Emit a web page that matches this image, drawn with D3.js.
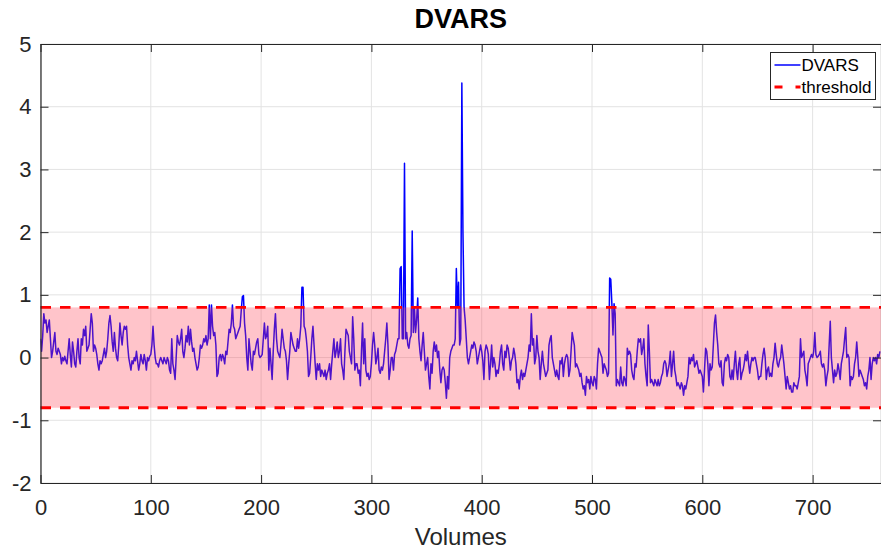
<!DOCTYPE html>
<html lang="en">

<head>
    <meta charset="UTF-8">
    <title>DVARS</title>
    <script src="https://d3js.org/d3.v7.min.js"></script>
</head>
<style>
    body {
        margin: 0;
        background: #fff;
    }

    text {
        font-family: "Liberation Sans", Arial, Helvetica, sans-serif;
        fill: #262626;
    }
</style>

<body>
    <div id="chart"></div>

    <script>
        // DVARS value for every volume (index = volume)
        const dvars = [
            0.3, 0.1, 0.35, 0.7, 0.55, 0.6, 0.4, 0.5, 0.6, 0.3,
            0.0, 0.1, 0.25, 0.4, 0.1, 0.05, 0.15, 0.1, 0.05, -0.1,
            0.0, -0.05, 0.02, -0.05, -0.1, 0.1, 0.3, 0.05, -0.15, 0.25,
            0.1, -0.1, -0.15, 0.1, 0.3, 0.0, -0.1, 0.3, 0.2, 0.45,
            0.35, 0.5, 0.1, 0.15, 0.2, 0.45, 0.7, 0.55, 0.1, 0.2,
            0.15, 0.05, -0.1, -0.2, -0.05, -0.1, -0.05, 0.05, 0.15, 0.0,
            0.1, 0.3, 0.55, 0.67, 0.5, 0.25, 0.1, 0.4, 0.15, 0.0,
            -0.05, 0.2, 0.55, 0.35, 0.2, 0.4, 0.5, 0.45, 0.5, 0.2,
            0.0, -0.1, -0.2, -0.05, -0.1, 0.0, -0.05, 0.1, -0.05, -0.2,
            -0.1, 0.05, -0.05, -0.1, 0.05, -0.05, -0.2, 0.0, -0.05, 0.02,
            // 100
            0.05, 0.2, 0.5, 0.2, 0.0, -0.1, -0.1, -0.15, -0.05, 0.0,
            -0.05, -0.1, 0.0, -0.05, -0.1, 0.0, -0.05, -0.2, -0.25, 0.3,
            -0.1, -0.2, -0.35, 0.0, 0.35, 0.25, 0.2, 0.3, 0.45, 0.1,
            0.0, 0.15, 0.35, 0.25, 0.5, 0.2, 0.45, 0.25, 0.1, 0.15,
            0.0, -0.1, -0.2, -0.15, 0.0, 0.2, 0.15, 0.2, 0.3, 0.25,
            0.35, 0.2, 0.3, 0.84, 0.3, 0.84, 0.5, 0.35, 0.4, 0.2,
            -0.3, -0.25, 0.0, 0.05, -0.05, 0.05, 0.0, -0.1, 0.1, 0.05,
            0.25, 0.45, 0.4, 0.55, 0.84, 0.5, 0.45, 0.3, 0.35, 0.4,
            0.45, 0.5, 0.75, 0.97, 0.99, 0.55, 0.35, 0.0, -0.2, 0.3,
            0.1, -0.1, -0.2, 0.1, 0.05, 0.15, 0.25, 0.3, 0.05, 0.0,
            // 200
            0.02, 0.05, 0.3, 0.55, 0.3, 0.35, 0.5, -0.2, 0.15, -0.1,
            -0.35, 0.1, 0.45, 0.7, 0.3, 0.1, 0.05, 0.0, 0.2, 0.45,
            0.3, 0.15, 0.1, -0.05, -0.35, -0.1, 0.1, 0.4, 0.3, 0.2,
            0.15, 0.1, 0.1, 0.3, 0.15, 0.3, 0.5, 1.12, 1.12, 0.5,
            0.45, 0.3, 0.1, -0.3, -0.25, 0.0, 0.3, 0.5, 0.2, -0.1,
            -0.35, -0.1, -0.2, -0.1, -0.3, -0.2, -0.25, -0.3, -0.2, -0.35,
            -0.25, -0.2, -0.1, -0.35, -0.1, 0.1, 0.3, 0.0, 0.1, 0.25,
            0.0, 0.1, 0.3, -0.1, -0.2, -0.35, 0.1, 0.45, 0.4, 0.35,
            0.1, 0.0, -0.1, 0.65, 0.3, -0.2, -0.1, -0.1, -0.25, -0.2,
            -0.45, 0.1, 0.55, -0.1, 0.3, -0.2, -0.3, -0.25, -0.35, -0.3,
            // 300
            -0.1, 0.2, 0.4, 0.2, -0.1, 0.0, 0.15, -0.2, -0.25, -0.15,
            -0.2, -0.1, 0.1, 0.3, 0.55, 0.2, -0.35, -0.2, 0.0, 0.0,
            -0.2, 0.05, 0.1, 0.2, 0.3, 0.3, 1.42, 1.45, 0.3, 0.3,
            3.1, 0.3, 0.4, 0.2, 0.15, 0.3, 0.35, 2.02, 0.4, 0.8,
            0.4, 0.6, 0.95, 0.3, 0.1, -0.05, 0.2, 0.4, 0.1, -0.2,
            -0.1, 0.0, -0.3, -0.5, -0.1, -0.25, 0.1, 0.25, 0.1, 0.2,
            0.0, 0.1, -0.2, -0.4, -0.2, -0.15, -0.2, -0.4, -0.65, -0.3,
            -0.5, 0.0, 0.1, 0.15, 0.2, 0.2, 0.3, 1.42, 0.8, 1.2,
            0.2, 0.3, 4.38, 2.0, 0.8, 0.6, 0.3, 0.0, -0.1, 0.0,
            0.1, 0.2, 0.15, 0.25, 0.2, 0.1, -0.1, 0.0, 0.1, 0.2,
            // 400
            0.1, -0.05, -0.35, 0.1, 0.2, 0.15, 0.05, -0.35, -0.1, 0.2,
            -0.15, 0.0, -0.1, -0.3, -0.2, -0.25, -0.1, 0.1, 0.2, -0.1,
            -0.2, 0.1, 0.0, 0.2, 0.15, 0.0, -0.2, -0.05, 0.0, 0.15,
            0.05, -0.1, -0.4, -0.35, -0.5, -0.3, -0.2, -0.35, -0.25, -0.3,
            -0.2, -0.1, 0.0, 0.2, 0.1, 0.7, 0.2, 0.3, -0.1, 0.0,
            0.35, 0.1, 0.0, -0.35, -0.1, 0.1, -0.1, -0.2, -0.3, -0.25,
            -0.2, 0.2, 0.3, 0.35, 0.0, -0.1, -0.2, -0.3, -0.2, -0.3,
            -0.35, -0.05, -0.1, 0.0, -0.3, -0.1, 0.0, 0.05, 0.0, -0.3,
            -0.2, 0.1, 0.4, 0.3, 0.2, -0.15, -0.1, -0.15, -0.2, -0.3,
            -0.25, -0.4, -0.5, -0.45, -0.6, -0.3, -0.4, -0.35, -0.5, -0.3,
            // 500
            -0.4, -0.45, -0.3, -0.35, -0.5, -0.1, 0.15, 0.1, 0.05, 0.0,
            -0.25, -0.1, -0.15, -0.2, -0.3, -0.25, 1.27, 1.25, 0.86, 0.36,
            0.86, 0.7, -0.45, -0.35, -0.4, -0.45, -0.15, -0.4, -0.45, -0.3,
            -0.35, -0.45, 0.15, 0.05, 0.1, 0.05, -0.2, -0.3, -0.35, -0.1,
            -0.15, 0.1, 0.3, 0.25, 0.3, 0.05, 0.15, 0.3, -0.1, -0.3,
            -0.45, 0.52, 0.1, -0.4, -0.35, -0.4, -0.45, -0.35, -0.4, -0.45,
            -0.35, -0.45, -0.4, -0.3, -0.25, -0.1, -0.05, -0.1, -0.3, -0.2,
            -0.1, 0.1, -0.3, -0.1, 0.1, -0.2, -0.3, -0.45, -0.4, -0.45,
            -0.5, -0.4, -0.45, -0.6, -0.45, -0.5, -0.4, -0.3, 0.0, -0.1,
            0.0, -0.05, 0.05, -0.15, -0.1, -0.05, -0.15, -0.25, -0.2, -0.25,
            // 600
            -0.3, -0.55, -0.2, 0.15, 0.1, -0.1, -0.45, -0.1, -0.2, -0.15,
            0.2, 0.55, 0.68, 0.4, 0.2, -0.1, -0.15, -0.05, -0.4, -0.45,
            -0.1, 0.0, -0.05, 0.05, 0.0, -0.3, -0.35, -0.2, -0.35, -0.1,
            0.1, -0.2, -0.35, -0.1, 0.0, -0.35, -0.25, -0.2, -0.1, 0.05,
            -0.05, 0.1, -0.1, -0.25, -0.1, 0.0, -0.05, 0.0, 0.0, -0.1,
            -0.2, -0.35, -0.3, -0.3, -0.1, 0.05, 0.15, 0.0, -0.35, -0.2,
            -0.15, -0.3, -0.25, -0.3, -0.1, 0.0, 0.23, 0.05, -0.1, -0.15,
            -0.05, 0.0, 0.2, 0.05, -0.1, -0.3, -0.5, -0.3, -0.4, -0.5,
            -0.45, -0.55, -0.55, -0.4, -0.45, -0.45, -0.5, -0.4, -0.3, 0.3,
            0.0, 0.05, 0.1, -0.2, -0.3, -0.45, -0.1, -0.05, 0.0, 0.05,
            // 700
            0.0, 0.1, 0.4, 0.05, 0.0, 0.02, 0.05, 0.1, -0.1, -0.15,
            -0.1, -0.2, -0.45, -0.3, -0.2, 0.2, 0.58, 0.0, -0.2, -0.4,
            -0.2, -0.3, -0.25, -0.1, -0.2, -0.35, -0.1, 0.0, 0.1, 0.3,
            0.48, 0.0, 0.05, 0.0, -0.45, -0.3, -0.35, -0.3, -0.1, 0.0,
            0.25, 0.0, -0.3, -0.2, -0.25, -0.3, -0.35, -0.45, -0.4, -0.5,
            -0.3, -0.2, 0.0, -0.35, -0.1, 0.0, -0.05, 0.0, -0.1, 0.05,
            0.0, 0.1
        ];

        const thresholdValue = 0.8;
        const xTicks = [0, 100, 200, 300, 400, 500, 600, 700];
        const yTicks = [-2, -1, 0, 1, 2, 3, 4, 5];
        const xMax = 762;
        const legendLabels = ["DVARS", "threshold"];

        var margin = {
                top: 44,
                right: 0,
                bottom: 68,
                left: 40.5
            },
            width = 881 - margin.left - margin.right,
            height = 551 - margin.top - margin.bottom;

        const svg = d3.select("#chart")
            .append("svg")
            .attr("width", 881)
            .attr("height", 551);

        const g = svg.append("g")
            .attr("transform", "translate(" + margin.left + "," + margin.top + ")");

        const xScale = d3.scaleLinear()
            .domain([0, xMax])
            .range([0, width]);

        const yScale = d3.scaleLinear()
            .domain([-2, 5])
            .range([height, 0]);

        // grid
        g.append("g")
            .selectAll("line")
            .data(xTicks)
            .enter()
            .append("line")
            .attr("x1", d => xScale(d))
            .attr("x2", d => xScale(d))
            .attr("y1", 0)
            .attr("y2", height)
            .attr("stroke", "#e3e3e3")
            .attr("stroke-width", 1);

        g.append("g")
            .selectAll("line")
            .data(yTicks)
            .enter()
            .append("line")
            .attr("x1", 0)
            .attr("x2", width)
            .attr("y1", d => yScale(d))
            .attr("y2", d => yScale(d))
            .attr("stroke", "#e3e3e3")
            .attr("stroke-width", 1);

        g.append("clipPath")
            .attr("id", "plotArea")
            .append("rect")
            .attr("width", width)
            .attr("height", height);

        // DVARS line
        const line = d3.line()
            .x((d, i) => xScale(i))
            .y(d => yScale(d));

        g.append("path")
            .datum(dvars)
            .attr("clip-path", "url(#plotArea)")
            .attr("fill", "none")
            .attr("stroke", "#0000ff")
            .attr("stroke-width", 1.5)
            .attr("stroke-linejoin", "round")
            .attr("d", line);

        // shaded band between -threshold and +threshold, drawn over the line
        g.append("rect")
            .attr("x", 0)
            .attr("width", width)
            .attr("y", yScale(thresholdValue))
            .attr("height", yScale(-thresholdValue) - yScale(thresholdValue))
            .attr("fill", "rgb(255,60,80)")
            .attr("fill-opacity", 0.3);

        g.append("g")
            .selectAll("line")
            .data([thresholdValue, -thresholdValue])
            .enter()
            .append("line")
            .attr("x1", 0)
            .attr("x2", width)
            .attr("y1", d => yScale(d))
            .attr("y2", d => yScale(d))
            .attr("stroke", "#ff0000")
            .attr("stroke-width", 2.8)
            .attr("stroke-dasharray", "10.5,9");

        // axes, ticks pointing inward
        function styleAxis(sel) {
            sel.select(".domain").attr("stroke", "#262626").attr("stroke-width", 1.2);
            sel.selectAll(".tick line").attr("stroke", "#262626");
            sel.selectAll("text")
                .attr("fill", "#262626")
                .style("font-size", "22px");
        }

        const plainNumber = d => String(d);

        g.append("g")
            .attr("transform", "translate(0," + height + ")")
            .call(d3.axisBottom(xScale).tickValues(xTicks).tickFormat(plainNumber)
                .tickSizeInner(-8).tickSizeOuter(0).tickPadding(16))
            .call(styleAxis);

        g.append("g")
            .call(d3.axisTop(xScale).tickValues(xTicks).tickSizeInner(-8).tickSizeOuter(0).tickFormat(""))
            .call(styleAxis);

        g.append("g")
            .call(d3.axisLeft(yScale).tickValues(yTicks).tickFormat(plainNumber)
                .tickSizeInner(-8).tickSizeOuter(0).tickPadding(9))
            .call(styleAxis);

        g.append("g")
            .attr("transform", "translate(" + width + ",0)")
            .call(d3.axisRight(yScale).tickValues(yTicks).tickSizeInner(-8).tickSizeOuter(0).tickFormat(""))
            .call(styleAxis);

        // title and axis label
        svg.append("text")
            .attr("x", margin.left + width / 2)
            .attr("y", 28)
            .attr("text-anchor", "middle")
            .style("font-size", "27px")
            .style("font-weight", "bold")
            .style("fill", "#000")
            .text("DVARS");

        svg.append("text")
            .attr("x", margin.left + width / 2)
            .attr("y", 545)
            .attr("text-anchor", "middle")
            .style("font-size", "24px")
            .text("Volumes");

        // legend
        const legend = svg.append("g")
            .attr("transform", "translate(770.5,52.5)");

        legend.append("rect")
            .attr("width", 105)
            .attr("height", 47)
            .attr("fill", "#fff")
            .attr("stroke", "#262626")
            .attr("stroke-width", 1);

        const legendStyles = [
            { color: "#0000ff", dash: null, width: 1.5 },
            { color: "#ff0000", dash: "8,13", width: 2.8 }
        ];

        legendLabels.forEach((label, i) => {
            const yy = 12.5 + i * 22;
            legend.append("line")
                .attr("x1", 4)
                .attr("x2", 30)
                .attr("y1", yy)
                .attr("y2", yy)
                .attr("stroke", legendStyles[i].color)
                .attr("stroke-width", legendStyles[i].width)
                .attr("stroke-dasharray", legendStyles[i].dash);
            legend.append("text")
                .attr("x", 31)
                .attr("y", yy)
                .attr("dy", "0.35em")
                .style("font-size", "17px")
                .style("fill", "#000")
                .text(label);
        });
    </script>
</body>

</html>
